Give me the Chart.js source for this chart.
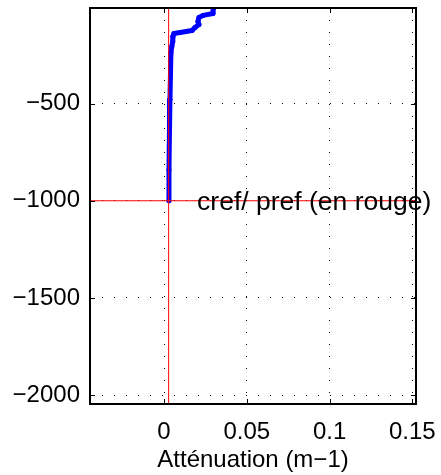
<!DOCTYPE html>
<html>
<head>
<meta charset="utf-8">
<title>Atténuation</title>
<script src="https://cdn.jsdelivr.net/npm/chart.js@4.4.0/dist/chart.umd.min.js"></script>
<style>
  html, body { margin: 0; padding: 0; background: #fff; }
  #wrap { width: 441px; height: 475px; }
</style>
</head>
<body>
<div id="wrap"><canvas id="c" width="441" height="475"></canvas></div>
<script>
// profil (profondeur en m, attenuation en m-1)
const depth = [-10, -36, -46, -57, -77, -93, -108, -124, -134, -139, -155, -180, -206, -237, -309, -479, -634, -840, -1000];
const atten = [0.0298, 0.0296, 0.0236, 0.0211, 0.0205, 0.0211, 0.0187, 0.0169, 0.0097, 0.0060, 0.0054, 0.0053, 0.0047, 0.0042, 0.0040, 0.0036, 0.0033, 0.0030, 0.0030];

const xTicks = [0, 0.05, 0.1, 0.15];
const yTicks = [-2000, -1500, -1000, -500];
const xRange = [-0.0447, 0.1522];
const yRange = [-2046, -8];

const cref = 0.0028;
const pref = -1000;
const refLabel = 'cref/ pref (en rouge)';
const xTitle = 'Atténuation (m−1)';

const FONT = '"Liberation Sans", Arial, sans-serif';
const fmt = v => (v < 0 ? '\u2212' + Math.abs(v) : String(v));

// cadre + petites graduations interieures + texte
const boxPlugin = {
    id: 'box',
    afterDraw(chart) {
        const { ctx, chartArea: a, scales: { x, y } } = chart;
        ctx.save();
        ctx.strokeStyle = '#000';
        ctx.lineWidth = 1;
        ctx.beginPath();
        xTicks.forEach(v => {
            const px = Math.round(x.getPixelForValue(v)) + 0.5;
            ctx.moveTo(px, a.bottom); ctx.lineTo(px, a.bottom - 5);
            ctx.moveTo(px, a.top); ctx.lineTo(px, a.top + 5);
        });
        yTicks.forEach(v => {
            const py = Math.round(y.getPixelForValue(v)) + 0.5;
            ctx.moveTo(a.left, py); ctx.lineTo(a.left + 5, py);
            ctx.moveTo(a.right, py); ctx.lineTo(a.right - 5, py);
        });
        ctx.stroke();
        ctx.lineWidth = 2;
        ctx.strokeRect(a.left, a.top, a.width, a.height);

        ctx.font = '26.5px ' + FONT;
        ctx.fillStyle = '#000';
        ctx.textBaseline = 'middle';
        ctx.textAlign = 'left';
        ctx.fillText(refLabel, x.getPixelForValue(0.02), y.getPixelForValue(pref) + 2);
        ctx.restore();
    }
};

new Chart(document.getElementById('c'), {
    type: 'scatter',
    data: {
        datasets: [
            {
                label: 'cref',
                data: [{ x: cref, y: yRange[0] }, { x: cref, y: yRange[1] }],
                showLine: true,
                borderColor: '#ff0000',
                borderWidth: 1,
                pointRadius: 0,
                order: 0
            },
            {
                label: 'pref',
                data: [{ x: xRange[0], y: pref }, { x: xRange[1], y: pref }],
                showLine: true,
                borderColor: '#ff0000',
                borderWidth: 1,
                pointRadius: 0,
                order: 0
            },
            {
                label: 'profil',
                data: depth.map((d, i) => ({ x: atten[i], y: d })),
                showLine: true,
                borderColor: '#0000ff',
                backgroundColor: '#0000ff',
                borderWidth: 5,
                borderCapStyle: 'round',
                borderJoinStyle: 'round',
                pointRadius: 2.5,
                pointBorderWidth: 0,
                tension: 0,
                order: 1
            }
        ]
    },
    options: {
        responsive: false,
        animation: false,
        layout: { padding: { top: 8, right: 25, left: 0, bottom: 0 } },
        plugins: {
            legend: { display: false },
            tooltip: { enabled: false }
        },
        scales: {
            x: {
                type: 'linear',
                min: xRange[0],
                max: xRange[1],
                afterBuildTicks: s => { s.ticks = xTicks.map(v => ({ value: v })); },
                afterFit: s => { s.height = 71; s.paddingLeft = 0; s.paddingRight = 0; },
                grid: { color: '#000', lineWidth: 1, drawTicks: false },
                border: { display: false, dash: [1, 11] },
                ticks: {
                    color: '#000',
                    font: { family: FONT, size: 24 },
                    padding: 14,
                    maxRotation: 0,
                    callback: v => fmt(v)
                },
                title: {
                    display: true,
                    text: xTitle,
                    color: '#000',
                    font: { family: FONT, size: 24 },
                    padding: { top: 0, bottom: 0 }
                }
            },
            y: {
                type: 'linear',
                min: yRange[0],
                max: yRange[1],
                afterBuildTicks: s => { s.ticks = yTicks.map(v => ({ value: v })); },
                afterFit: s => { s.width = 90; s.paddingTop = 0; s.paddingBottom = 0; },
                grid: { color: '#000', lineWidth: 1, drawTicks: false },
                border: { display: false, dash: [1, 11] },
                ticks: {
                    color: '#000',
                    font: { family: FONT, size: 24 },
                    padding: 10,
                    callback: v => fmt(v)
                }
            }
        }
    },
    plugins: [boxPlugin]
});
</script>
</body>
</html>
